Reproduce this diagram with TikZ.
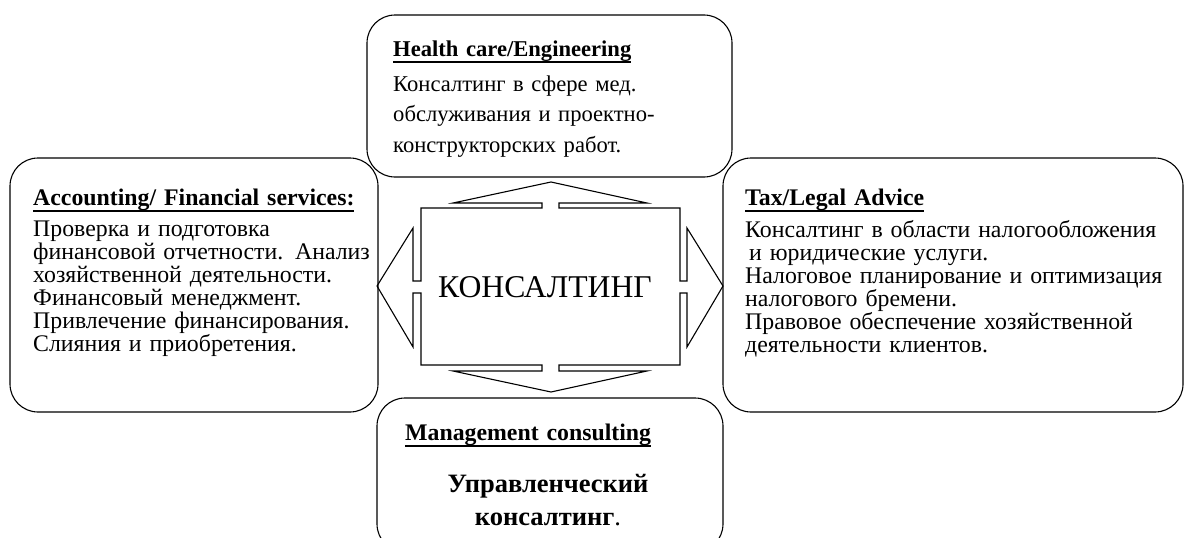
\documentclass[tikz,border=0pt]{standalone}
\usepackage{fontspec}
\setmainfont{Liberation Serif}
\usepackage{tikz}
\usetikzlibrary{positioning}

\newsavebox\headbox
\newcommand{\uhead}[1]{\sbox\headbox{\bfseries #1}\leavevmode\rlap{\usebox\headbox}\rule[-6.5pt]{\wd\headbox}{1.6pt}}

\tikzset{
  area/.style={draw, line width=1.1pt, rounded corners=28pt},
  areatext/.style={anchor=base west, inner sep=0pt, align=left, text width=500pt,
    font=\fontsize{23.8}{23}\selectfont},
}

\begin{document}
\begin{tikzpicture}[x=1pt, y=-1pt]
  \useasboundingbox (0,0) rectangle (1186,538);
  \clip (0,0) rectangle (1186,538);

  % the four fields
  \node[area, minimum width=365pt, minimum height=162pt] (health) at (549.5,96) {};
  \node[area, minimum width=368pt, minimum height=254pt] (account) at (194,285) {};
  \node[area, minimum width=460pt, minimum height=254pt] (tax) at (953,285) {};
  \node[area, minimum width=346pt, minimum height=154pt] (manage) at (550,475) {};

  % texts
  \node[areatext, font=\fontsize{22.6}{30.5}\selectfont] (healthtxt) at (393,56)
    {\uhead{Health care/Engineering}\\[5pt]
     Консалтинг в сфере мед.\\
     обслуживания и проектно-\\
     конструкторских работ.};
  \node[areatext] (accounttxt) at (33,205)
    {\uhead{Accounting/ Financial services:}\\[8pt]
     Проверка и подготовка\\
     финансовой отчетности. Анализ\\
     хозяйственной деятельности.\\
     Финансовый менеджмент.\\
     Привлечение финансирования.\\
     Слияния и приобретения.};
  \node[areatext] (taxtxt) at (745,205)
    {\uhead{Tax/Legal Advice}\\[8pt]
     Консалтинг в области налогообложения\\
     \hspace*{4pt}и юридические услуги.\\
     Налоговое планирование и оптимизация\\
     налогового бремени.\\
     Правовое обеспечение хозяйственной\\
     деятельности клиентов.};
  \node[areatext] (managetxt) at (405,440) {\uhead{Management consulting}};
  \node[anchor=base, inner sep=0pt, align=center, text width=320pt,
    font=\fontsize{26.5}{33}\selectfont\bfseries] (managesub) at (548,492)
    {Управленческий\\ консалтинг\textmd{.}};

  % centre with four arrows
  \node[anchor=base, inner sep=0pt, font=\fontsize{31.7}{31}\selectfont] (hub) at (545,297) {КОНСАЛТИНГ};
  \draw[line width=1.1pt, line join=miter]
    (421,208) -- (542,208) -- (542,203) -- (453,203) -- (551,182) -- (647,203)
    -- (559,203) -- (559,208) -- (680,208) -- (680,281) -- (687,281) -- (687,228)
    -- (723,286) -- (687,347) -- (687,293) -- (680,293) -- (680,365) -- (559,365)
    -- (559,371) -- (647,371) -- (551,392) -- (453,371) -- (542,371) -- (542,365)
    -- (421,365) -- (421,293) -- (413,293) -- (413,347) -- (377,286) -- (413,228)
    -- (413,281) -- (421,281) -- cycle;
\end{tikzpicture}
\end{document}
